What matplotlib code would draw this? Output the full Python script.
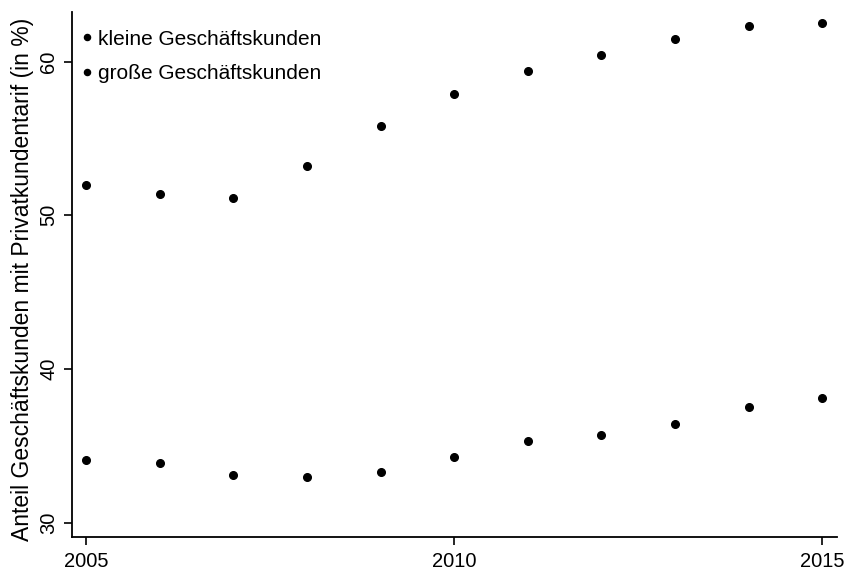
import numpy as np
import matplotlib.pyplot as plt

plt.rcParams['font.family'] = ['Liberation Sans', 'DejaVu Sans']

# Anteil Geschaeftskunden mit Privatkundentarif je Jahr (in %)
jahre = [2005, 2006, 2007, 2008, 2009, 2010, 2011, 2012, 2013, 2014, 2015]
kleine = [52.0, 51.4, 51.1, 53.2, 55.8, 57.9, 59.4, 60.4, 61.5, 62.3, 62.5]
grosse = [34.1, 33.9, 33.1, 33.0, 33.3, 34.3, 35.3, 35.7, 36.4, 37.5, 38.1]

y_ticks = [30, 40, 50, 60]
x_ticks = [2005, 2010, 2015]

fig = plt.figure(figsize=(8.49, 5.71), dpi=100)
ax = fig.add_axes([0.0848, 0.0595, 0.9012, 0.9195])

ax.plot(jahre, kleine, 'o', color='black', markersize=5.5, label='kleine Geschäftskunden')
ax.plot(jahre, grosse, 'o', color='black', markersize=5.5, label='große Geschäftskunden')

ax.set_xlim(2004.81, 2015.2)
ax.set_ylim(29.07, 63.23)
ax.set_xticks(x_ticks)
ax.set_yticks(y_ticks)
ax.set_yticklabels([str(t) for t in y_ticks], rotation=90, va='center')
ax.tick_params(axis='both', labelsize=14.5, length=6, width=1.2, color='black')
ax.tick_params(axis='x', pad=5)
ax.tick_params(axis='y', pad=4)

for s in ['top', 'right']:
    ax.spines[s].set_visible(False)
for s in ['left', 'bottom']:
    ax.spines[s].set_linewidth(1.3)

ax.set_ylabel('Anteil Geschäftskunden mit Privatkundentarif (in %)', fontsize=16.5)
ax.yaxis.set_label_coords(-0.05, 0.49)

ax.legend(loc='upper left', bbox_to_anchor=(0.098, 0.948), bbox_transform=fig.transFigure,
          frameon=False, fontsize=15, handlelength=0.4, handletextpad=0.3,
          labelspacing=0.75, borderpad=0, borderaxespad=0, markerscale=0.8)

fig.savefig('out.png', dpi=100)
